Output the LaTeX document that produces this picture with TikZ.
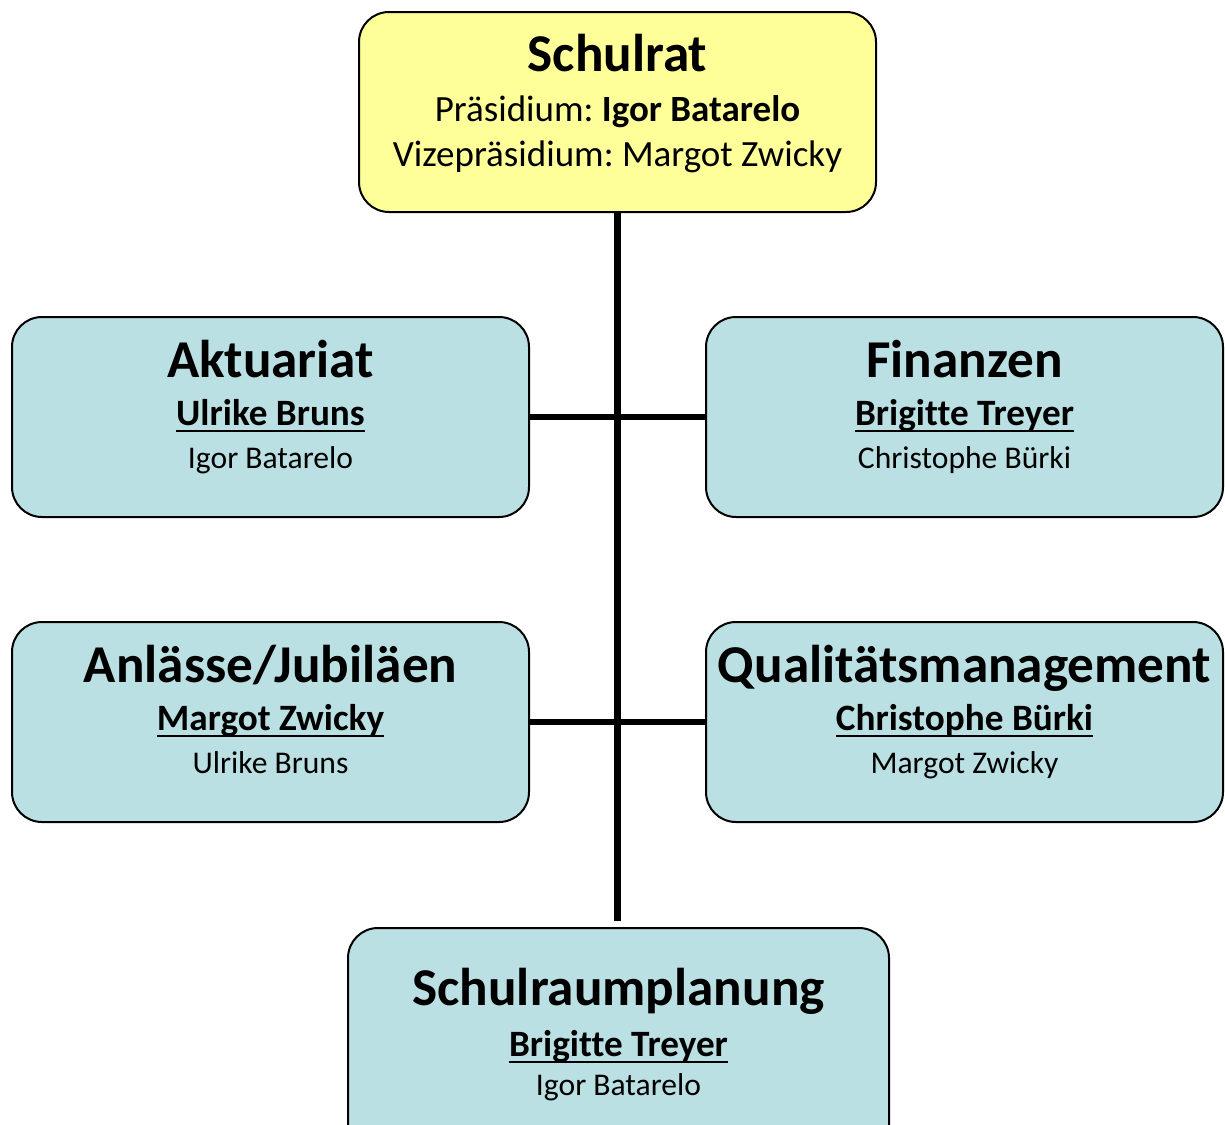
\documentclass[tikz,border=0pt]{standalone}
\usepackage{fontspec}
\setmainfont{Carlito}[Ligatures=NoCommon]
\usepackage{xcolor}
\usepackage{tikz}
\usetikzlibrary{positioning}
\definecolor{boardyellow}{RGB}{255,255,153}
\definecolor{unitblue}{RGB}{187,224,227}
\newcommand{\titlefont}{\fontsize{26.6}{30}\selectfont\bfseries}
\newcommand{\namefont}{\fontsize{18.6}{22}\selectfont\bfseries}
\newcommand{\headname}[1]{\setbox0\hbox{#1}\rlap{\rule[-3.7pt]{\wd0}{1.3pt}}\box0}
\newcommand{\topstrut}{\rule{0pt}{21pt}}
\newcommand{\lowstrut}[1]{\rule[-#1]{0pt}{0pt}}
\frenchspacing

\begin{document}
\begin{tikzpicture}[
  x=0.5pt, y=-0.5pt,
  every node/.style={align=center},
  board/.style={draw, line width=1pt, rounded corners=15pt, fill=boardyellow, minimum width=258.5pt, minimum height=100pt, inner sep=2pt, font=\fontsize{18.5}{22.5}\selectfont},
  unit/.style={draw, line width=1pt, rounded corners=15pt, fill=unitblue, minimum width=258.5pt, minimum height=100pt, inner sep=2pt, font=\fontsize{15.8}{21.5}\selectfont},
  link/.style={line width=3.2pt}
]
  \useasboundingbox (0,0) rectangle (1225,1124);

  \node[board] (rat) at (617.5,112) {\topstrut{\titlefont Schulrat}\\[2.5pt]Präsidium: \textbf{Igor Batarelo}\\Vizepräsidium: Margot Zwicky\lowstrut{13.8pt}};
  \node[unit] (akt) at (270.5,417) {\topstrut{\titlefont Aktuariat}\\[2.5pt]{\namefont\headname{Ulrike Bruns}}\\Igor Batarelo\lowstrut{15.5pt}};
  \node[unit] (fin) at (964.5,417) {\topstrut{\titlefont Finanzen}\\[2.5pt]{\namefont\headname{Brigitte Treyer}}\\Christophe Bürki\lowstrut{15.5pt}};
  \node[unit] (anl) at (270.5,722) {\topstrut{\titlefont Anlässe/Jubiläen}\\[2.5pt]{\namefont\headname{Margot Zwicky}}\\Ulrike Bruns\lowstrut{15.5pt}};
  \node[unit] (qual) at (964.5,722) {\topstrut{\titlefont Qualitätsmanagement}\\[2.5pt]{\namefont\headname{Christophe Bürki}}\\Margot Zwicky\lowstrut{15.5pt}};
  \node[unit, minimum width=270.5pt, minimum height=117pt] (plan) at (618.5,1045) {\topstrut{\titlefont Schulraumplanung}\\[4pt]{\namefont\headname{Brigitte Treyer}}\\[-2pt]Igor Batarelo\lowstrut{16pt}};
  \coordinate (stem) at (617.5,920.5);

  \draw[link] (rat) -- (stem);
  \draw[link] (akt) -- (fin);
  \draw[link] (anl) -- (qual);
\end{tikzpicture}
\end{document}
